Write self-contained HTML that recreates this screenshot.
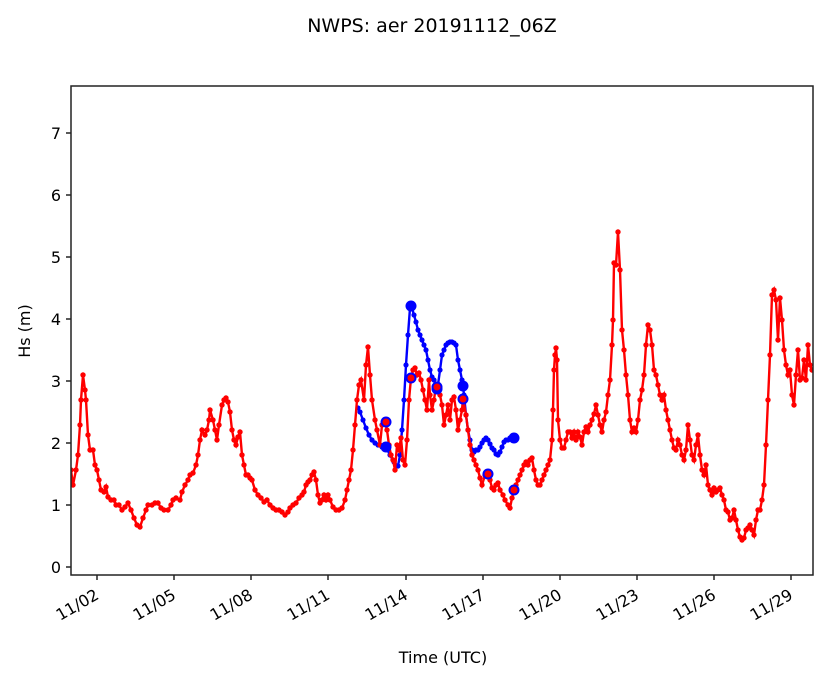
<!DOCTYPE html>
<html><head><meta charset="utf-8"><style>
body{margin:0;background:#fff}
svg{display:block;font-family:"DejaVu Sans","Liberation Sans",sans-serif}
</style></head><body>
<svg width="833" height="681" viewBox="0 0 833 681" xmlns="http://www.w3.org/2000/svg">
<defs>
<marker id="mr" markerUnits="userSpaceOnUse" markerWidth="8" markerHeight="8" refX="4" refY="4"><circle cx="4" cy="4" r="2.7" fill="#f00"/></marker>
<marker id="mb" markerUnits="userSpaceOnUse" markerWidth="8" markerHeight="8" refX="4" refY="4"><circle cx="4" cy="4" r="2.6" fill="#00f"/></marker>
<clipPath id="c"><rect x="71" y="86" width="742" height="489"/></clipPath>
</defs>
<rect width="833" height="681" fill="#fff"/>
<text x="432" y="32" font-size="19" text-anchor="middle" fill="#000">NWPS: aer 20191112_06Z</text>
<g clip-path="url(#c)">
<polyline fill="none" stroke="#00f" stroke-width="2.4" marker-start="url(#mb)" marker-mid="url(#mb)" marker-end="url(#mb)" points="358,408 360,412 363,420 366,428 369,435 372,440 375,443 378,445 382,447 386,447 390,455 394,462 398,466 400,455 402,430 404,400 406,365 408,335 410,308 412,308 414,315 416,322 418,330 420,335 422,340 424,345 426,350 428,360 430,370 432,377 434,380 436,385 438,385 440,370 442,355 444,350 446,345 448,343 450,342 452,342 454,343 456,345 458,360 460,370 462,380 463,386 464,395 466,415 468,430 470,440 472,450 474,452 476,450 478,450 480,447 482,443 484,440 486,438 488,440 490,444 492,448 494,450 496,454 498,455 500,452 502,447 504,442 506,440 508,440 510,438 514,438"/>
<polyline fill="none" stroke="#f00" stroke-width="2.4" marker-start="url(#mr)" marker-mid="url(#mr)" marker-end="url(#mr)" points="71,470 73,485 76,470 78,455 80,425 81,400 83,375 85,390 86,400 88,435 90,450 93,450 95,465 97,470 99,480 101,490 104,492 106,487 108,497 111,500 114,500 116,505 119,505 122,510 125,507 128,503 131,510 134,518 137,525 140,527 143,518 146,510 148,505 152,505 155,503 158,503 161,508 164,510 168,510 171,505 173,500 176,498 180,500 182,492 185,485 188,480 190,475 193,473 196,465 198,455 200,440 202,430 205,435 207,430 209,420 210,410 213,420 215,430 217,440 219,425 222,405 224,400 226,398 228,402 230,412 232,430 234,440 236,445 238,437 240,432 242,455 244,465 246,475 248,475 250,478 252,480 255,490 258,495 261,498 264,502 267,500 270,505 273,508 276,510 279,510 282,512 285,515 288,512 290,508 293,505 296,503 299,498 302,495 304,492 306,485 308,482 310,480 312,475 314,472 316,480 318,495 320,503 322,500 324,495 326,500 328,495 330,500 333,507 336,510 339,510 342,508 345,500 347,490 349,480 351,470 353,450 355,425 357,400 359,385 361,380 364,400 366,365 368,347 370,375 372,400 375,420 377,430 380,445 382,425 385,422 387,430 389,445 391,455 393,460 395,470 397,445 399,450 401,438 403,460 405,465 407,440 409,400 411,378 413,370 415,368 417,375 419,373 421,380 423,390 425,400 427,410 429,380 430,395 432,410 434,400 436,385 437,387 440,395 442,405 444,425 446,415 448,405 450,420 452,400 454,397 456,410 458,430 460,420 462,410 463,398 466,415 468,430 470,445 472,455 474,460 476,465 478,470 480,478 482,485 485,475 488,474 490,480 492,488 494,490 496,485 498,483 500,490 503,495 505,500 508,505 510,508 512,498 514,490 516,485 518,480 520,475 522,470 524,465 526,462 528,465 530,460 532,458 534,470 536,480 538,485 540,485 542,480 544,475 546,470 548,465 550,460 552,440 553,410 554,370 555,355 556,348 557,360 558,420 560,440 562,448 564,448 566,440 568,432 570,432 572,438 574,432 576,440 578,432 580,437 582,445 584,432 586,427 588,432 590,425 592,420 594,414 596,405 598,415 600,425 602,432 604,420 606,412 608,395 610,380 612,345 613,320 614,263 616,265 618,232 620,270 622,330 624,350 626,375 628,395 630,420 632,432 634,428 636,432 638,420 640,400 642,390 644,375 646,345 648,325 650,330 652,345 654,370 656,375 658,385 660,395 662,400 664,395 666,410 668,420 670,430 672,440 674,448 676,450 678,440 680,445 682,455 684,460 686,450 688,425 690,440 692,455 694,460 696,445 698,435 700,455 702,470 704,475 706,465 708,485 710,490 712,495 714,488 716,492 718,490 720,488 722,495 724,500 726,510 728,512 730,520 732,518 734,510 736,520 738,530 740,537 742,540 744,538 746,530 748,528 750,525 752,530 754,535 756,520 758,510 760,510 762,500 764,485 766,445 768,400 770,355 772,295 774,290 776,300 778,340 780,298 782,320 784,350 786,365 788,375 790,370 792,395 794,405 796,375 798,350 800,380 802,378 804,360 806,380 808,345 810,365 812,370"/>
<g fill="#00f">
<circle cx="386" cy="447" r="5.5"/><circle cx="411" cy="306" r="5.5"/><circle cx="437" cy="389" r="5.5"/><circle cx="463" cy="386" r="5.5"/><circle cx="514" cy="438" r="5.5"/>
</g>
<g fill="#f00" stroke="#00f" stroke-width="2">
<circle cx="386" cy="422" r="4.5"/><circle cx="411" cy="378" r="4.5"/><circle cx="437" cy="387" r="4.5"/><circle cx="463" cy="399" r="4.5"/><circle cx="488" cy="474" r="4.5"/><circle cx="514" cy="490" r="4.5"/>
</g>
</g>
<rect x="71" y="86" width="742" height="489" fill="none" stroke="#222" stroke-width="1.5"/>
<g stroke="#222" stroke-width="1.5">
<line x1="66" y1="567" x2="71" y2="567"/><line x1="66" y1="505" x2="71" y2="505"/><line x1="66" y1="443" x2="71" y2="443"/><line x1="66" y1="381" x2="71" y2="381"/><line x1="66" y1="319" x2="71" y2="319"/><line x1="66" y1="257" x2="71" y2="257"/><line x1="66" y1="195" x2="71" y2="195"/><line x1="66" y1="133" x2="71" y2="133"/>
<line x1="97" y1="575" x2="97" y2="580"/><line x1="174" y1="575" x2="174" y2="580"/><line x1="251" y1="575" x2="251" y2="580"/><line x1="328" y1="575" x2="328" y2="580"/><line x1="406" y1="575" x2="406" y2="580"/><line x1="483" y1="575" x2="483" y2="580"/><line x1="560" y1="575" x2="560" y2="580"/><line x1="637" y1="575" x2="637" y2="580"/><line x1="714" y1="575" x2="714" y2="580"/><line x1="791" y1="575" x2="791" y2="580"/>
</g>
<g font-size="16" text-anchor="end" fill="#000">
<text x="61" y="573">0</text><text x="61" y="511">1</text><text x="61" y="449">2</text><text x="61" y="387">3</text><text x="61" y="325">4</text><text x="61" y="263">5</text><text x="61" y="201">6</text><text x="61" y="139">7</text>
</g>
<g font-size="16" text-anchor="end" fill="#000">
<text transform="translate(100,598) rotate(-30)">11/02</text>
<text transform="translate(177,598) rotate(-30)">11/05</text>
<text transform="translate(254,598) rotate(-30)">11/08</text>
<text transform="translate(331,598) rotate(-30)">11/11</text>
<text transform="translate(409,598) rotate(-30)">11/14</text>
<text transform="translate(486,598) rotate(-30)">11/17</text>
<text transform="translate(563,598) rotate(-30)">11/20</text>
<text transform="translate(640,598) rotate(-30)">11/23</text>
<text transform="translate(717,598) rotate(-30)">11/26</text>
<text transform="translate(794,598) rotate(-30)">11/29</text>
</g>
<text x="443" y="663" font-size="16" text-anchor="middle">Time (UTC)</text>
<text transform="translate(30,331) rotate(-90)" font-size="16" text-anchor="middle">Hs (m)</text>
</svg>
</body></html>
